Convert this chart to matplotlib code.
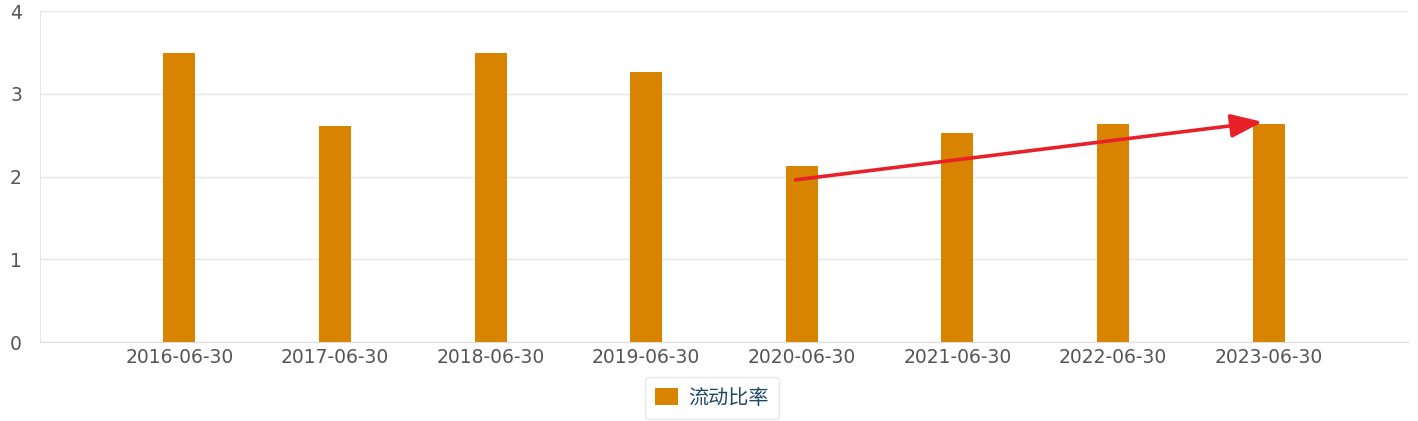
import matplotlib
matplotlib.use("Agg")
import matplotlib.pyplot as plt
import numpy as np

plt.rcParams['font.family'] = ['DejaVu Sans', 'Noto Sans CJK SC']

dates = ['2016-06-30', '2017-06-30', '2018-06-30', '2019-06-30',
         '2020-06-30', '2021-06-30', '2022-06-30', '2023-06-30']
current_ratio = [3.49, 2.61, 3.49, 3.26, 2.13, 2.52, 2.63, 2.64]
series_name = '流动比率'

# trend arrow, from the 2020 bar to the 2023 bar
arrow_from = (3.96, 1.96)
arrow_to = (6.96, 2.66)

bar_color = '#D98400'
grid_color = '#E6E6E6'

fig = plt.figure(figsize=(14.18, 4.21), dpi=100)
ax = fig.add_axes([40 / 1418, 1 - 342 / 421, 1368 / 1418, 331 / 421])

x = np.arange(len(dates))
ax.bar(x, current_ratio, width=0.205, color=bar_color, label=series_name, zorder=2)

ax.set_xlim(-0.895, len(dates) - 1 + 0.895)
ax.set_ylim(0, 4)
ax.set_yticks([0, 1, 2, 3, 4])
ax.set_xticks(x)
ax.set_xticklabels(dates)
ax.yaxis.grid(True, color=grid_color, linewidth=1, zorder=0)

for s in ['top', 'right']:
    ax.spines[s].set_visible(False)
ax.spines['left'].set_color(grid_color)
ax.spines['bottom'].set_color('#DDDDDD')
ax.tick_params(axis='both', length=0, labelsize=13.5, colors='#555555')
ax.tick_params(axis='y', pad=13)
ax.tick_params(axis='x', pad=4)

ax.annotate('', xy=arrow_to, xytext=arrow_from,
            arrowprops=dict(arrowstyle='-|>,head_length=1.6,head_width=0.6',
                            mutation_scale=12, color='#E8202A', lw=2.6,
                            shrinkA=0, shrinkB=0),
            zorder=5)

leg = fig.legend(loc='center', bbox_to_anchor=(712 / 1418, 1 - 398 / 421),
                 frameon=True, fancybox=True, handlelength=1.15, handleheight=0.9,
                 handletextpad=0.5, borderpad=0.5,
                 prop={'family': ['Noto Sans CJK SC'], 'size': 14.5})
leg.get_frame().set_edgecolor('#E3E3E3')
leg.get_frame().set_linewidth(1)
for t in leg.get_texts():
    t.set_color('#1F4A63')

fig.savefig('out.png', dpi=100)
